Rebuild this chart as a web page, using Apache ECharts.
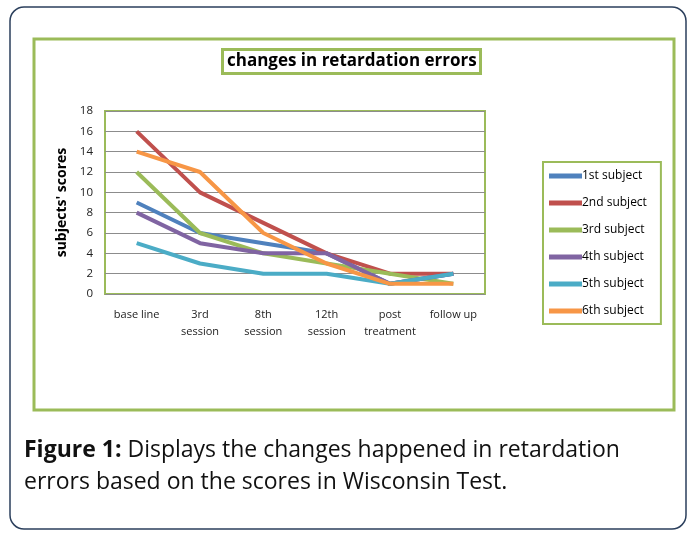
<!DOCTYPE html>
<html>
<head>
<meta charset="utf-8">
<script src="https://cdn.jsdelivr.net/npm/echarts@6/dist/echarts.min.js"></script>
<style>
  html, body { margin: 0; padding: 0; background: #fff; }
  #main { width: 691px; height: 534px; }
</style>
</head>
<body>
<div id="main"></div>
<script>
var categories = ['base line', '3rd\nsession', '8th\nsession', '12th\nsession', 'post\ntreatment', 'follow up'];
var subjectNames = ['1st subject', '2nd subject', '3rd subject', '4th subject', '5th subject', '6th subject'];
var subject1 = [9, 6, 5, 4, 1, 2];
var subject2 = [16, 10, 7, 4, 2, 2];
var subject3 = [12, 6, 4, 3, 2, 1];
var subject4 = [8, 5, 4, 4, 1, 2];
var subject5 = [5, 3, 2, 2, 1, 2];
var subject6 = [14, 12, 6, 3, 1, 1];
var colors = ['#4f81bd', '#c0504d', '#9bbb59', '#8064a2', '#4bacc6', '#f79646'];

var dom = document.getElementById('main');
var myChart = echarts.init(dom);

var allData = [subject1, subject2, subject3, subject4, subject5, subject6];
var series = allData.map(function (d, i) {
  return {
    name: subjectNames[i],
    type: 'line',
    data: d,
    symbol: 'none',
    lineStyle: { width: 4, color: colors[i] },
    itemStyle: { color: colors[i] }
  };
});

var option = {
  animation: false,
  color: colors,
  title: {
    text: 'changes in retardation errors',
    left: 222,
    top: 49,
    padding: [4, 4, 4, 5],
    borderColor: '#9bbb59',
    borderWidth: 3,
    textStyle: {
      fontFamily: 'Open Sans',
      fontSize: 17,
      fontWeight: 'bold',
      color: '#000'
    }
  },
  legend: {
    orient: 'vertical',
    left: 543,
    top: 162,
    width: 120,
    padding: [8, 14, 7, 6],
    itemGap: 15,
    itemWidth: 33,
    itemHeight: 5,
    borderColor: '#9bbb59',
    borderWidth: 2,
    icon: 'rect',
    data: subjectNames,
    textStyle: { fontFamily: 'Open Sans', fontSize: 12, color: '#000', padding: [0, 0, 0, -5] }
  },
  grid: {
    left: 105,
    top: 111,
    width: 380,
    height: 183,
    show: true,
    borderColor: '#9bbb59',
    borderWidth: 2
  },
  xAxis: {
    type: 'category',
    data: categories,
    boundaryGap: true,
    axisLine: { show: false },
    axisTick: { show: false },
    axisLabel: {
      interval: 0,
      margin: 12,
      fontFamily: 'Open Sans',
      fontSize: 11,
      lineHeight: 17,
      color: '#222'
    }
  },
  yAxis: {
    type: 'value',
    min: 0,
    max: 18,
    interval: 2,
    name: "subjects' scores",
    nameLocation: 'middle',
    nameGap: 34,
    nameTextStyle: { fontFamily: 'Open Sans', fontSize: 14, fontWeight: 'bold', color: '#000' },
    axisLine: { show: false },
    axisTick: { show: false },
    axisLabel: { fontFamily: 'Open Sans', fontSize: 11.5, color: '#222', margin: 12 },
    splitLine: { lineStyle: { color: '#8c8c8c', width: 1 } }
  },
  graphic: [
    {
      type: 'rect',
      shape: { x: 10, y: 7, width: 676, height: 522, r: 14 },
      style: { fill: 'none', stroke: '#2b3f5c', lineWidth: 1.5 },
      z: -1
    },
    {
      type: 'rect',
      shape: { x: 34, y: 39, width: 640, height: 371 },
      style: { fill: 'none', stroke: '#9bbb59', lineWidth: 3 },
      z: -1
    },
    {
      type: 'text',
      left: 24,
      top: 434,
      style: {
        text: '{b|Figure 1:} Displays the changes happened in retardation\nerrors based on the scores in Wisconsin Test.',
        fontFamily: 'Open Sans',
        fontSize: 23,
        lineHeight: 32,
        fill: '#111',
        rich: {
          b: { fontFamily: 'Open Sans', fontSize: 23, fontWeight: 'bold', fill: '#111' }
        }
      }
    }
  ],
  series: series
};

if (option && typeof option === 'object') {
  myChart.setOption(option, true);
}
window.onresize = function () {
  myChart.resize();
};
</script>
</body>
</html>
